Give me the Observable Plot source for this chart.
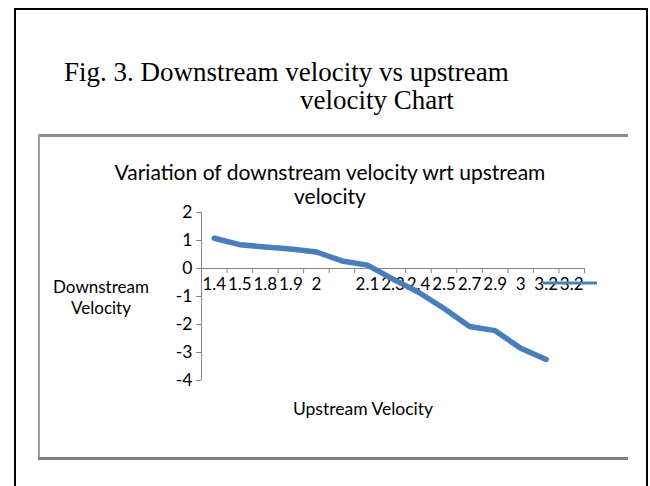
<!DOCTYPE html>
<html><head><meta charset="utf-8">
<script src="https://cdn.jsdelivr.net/npm/d3@7"></script>
<script src="https://cdn.jsdelivr.net/npm/@observablehq/plot@0.6"></script>
<style>
html,body{margin:0;padding:0;background:#fff;}
body{width:650px;height:486px;overflow:hidden;position:relative;}
#chart{position:absolute;left:0;top:0;}
#outer{position:absolute;left:14px;top:8px;width:630px;height:500px;border:2px solid #000;border-bottom:none;}
.fig{position:absolute;font-family:"Liberation Serif","Times New Roman",serif;font-size:27px;line-height:27px;color:#000;white-space:nowrap;}
#frameTop{position:absolute;left:38px;top:134px;width:590px;height:3px;background:#8c8c8c;}
#frameLeft{position:absolute;left:38px;top:134px;width:2px;height:326px;background:#9c9c9c;}
#frameBottom{position:absolute;left:38px;top:457px;width:590px;height:3px;background:#808080;}
.lbl{position:absolute;font-family:Lato,"Open Sans",sans-serif;color:#000;white-space:nowrap;text-align:center;}
#chartTitle{left:30px;width:600px;top:160px;font-size:21px;line-height:24px;}
#yTitle{left:41px;width:120px;top:276px;font-size:17px;line-height:21px;}
#xTitle{left:263px;width:200px;top:399px;font-size:17.5px;line-height:20px;}
#legend{position:absolute;left:0;top:0;}
</style></head>
<body>
<div id="chart"></div>
<div id="outer"></div>
<div class="fig" style="left:64px;top:59px;">Fig. 3. Downstream velocity vs upstream</div>
<div class="fig" style="left:300px;top:87px;">velocity Chart</div>
<div id="frameTop"></div><div id="frameLeft"></div><div id="frameBottom"></div>
<div class="lbl" id="chartTitle">Variation of downstream velocity wrt upstream<br>velocity</div>
<div class="lbl" id="yTitle">Downstream<br>Velocity</div>
<div class="lbl" id="xTitle">Upstream Velocity</div>
<svg id="legend" width="650" height="486"><line x1="543" x2="597" y1="283" y2="283" stroke="#4a7ebb" stroke-width="3"/></svg>
<script>
const categories = ["1.4","1.5","1.8","1.9","2","","2.1","2.3","2.4","2.5","2.7","2.9","3","3.2","3.2"];
const downstream = [1.08,0.85,0.77,0.70,0.59,0.27,0.12,-0.38,-0.85,-1.43,-2.07,-2.22,-2.85,-3.25];
const yTicks = [2,1,0,-1,-2,-3,-4];

const points = downstream.map((v,i)=>({i, v}));
const cats = categories.map((c,i)=>({i, c}));
const n = categories.length;
const bounds = d3.range(1, n+1).map(k=>k-0.5);
const axisColor = "#868686";

const chart = Plot.plot({
  width:650, height:486,
  marginLeft:201, marginRight:66, marginTop:212, marginBottom:106,
  x:{domain:[-0.5, n-0.5], axis:null},
  y:{domain:[-4, 2], axis:null},
  style:{fontFamily:"Lato, 'Open Sans', sans-serif", fontSize:"17px", background:"transparent", overflow:"visible"},
  marks:[
    Plot.ruleY([0], {x1:-0.5, x2:n-0.5, stroke:axisColor, strokeWidth:1}),
    Plot.ruleX(bounds, {x:d=>d, y1:0, y2:-0.18, stroke:axisColor}),
    Plot.ruleX([-0.5], {x:d=>d, y1:-4, y2:2, stroke:axisColor}),
    Plot.ruleY(yTicks, {y:d=>d, x1:-0.5, x2:-0.7, stroke:axisColor}),
    Plot.text(yTicks, {x:()=>-0.5, y:d=>d, text:d=>String(d), textAnchor:"end", dx:-9, fill:"#000", fontSize:17.5}),
    Plot.text(cats, {x:"i", y:()=>0, text:"c", dy:16, fill:"#000", fontSize:17}),
    Plot.line(points, {x:"i", y:"v", stroke:"#4a7ebb", strokeWidth:5.5, strokeLinecap:"round", strokeLinejoin:"round"})
  ]
});
document.getElementById("chart").appendChild(chart);
</script>
</body></html>
